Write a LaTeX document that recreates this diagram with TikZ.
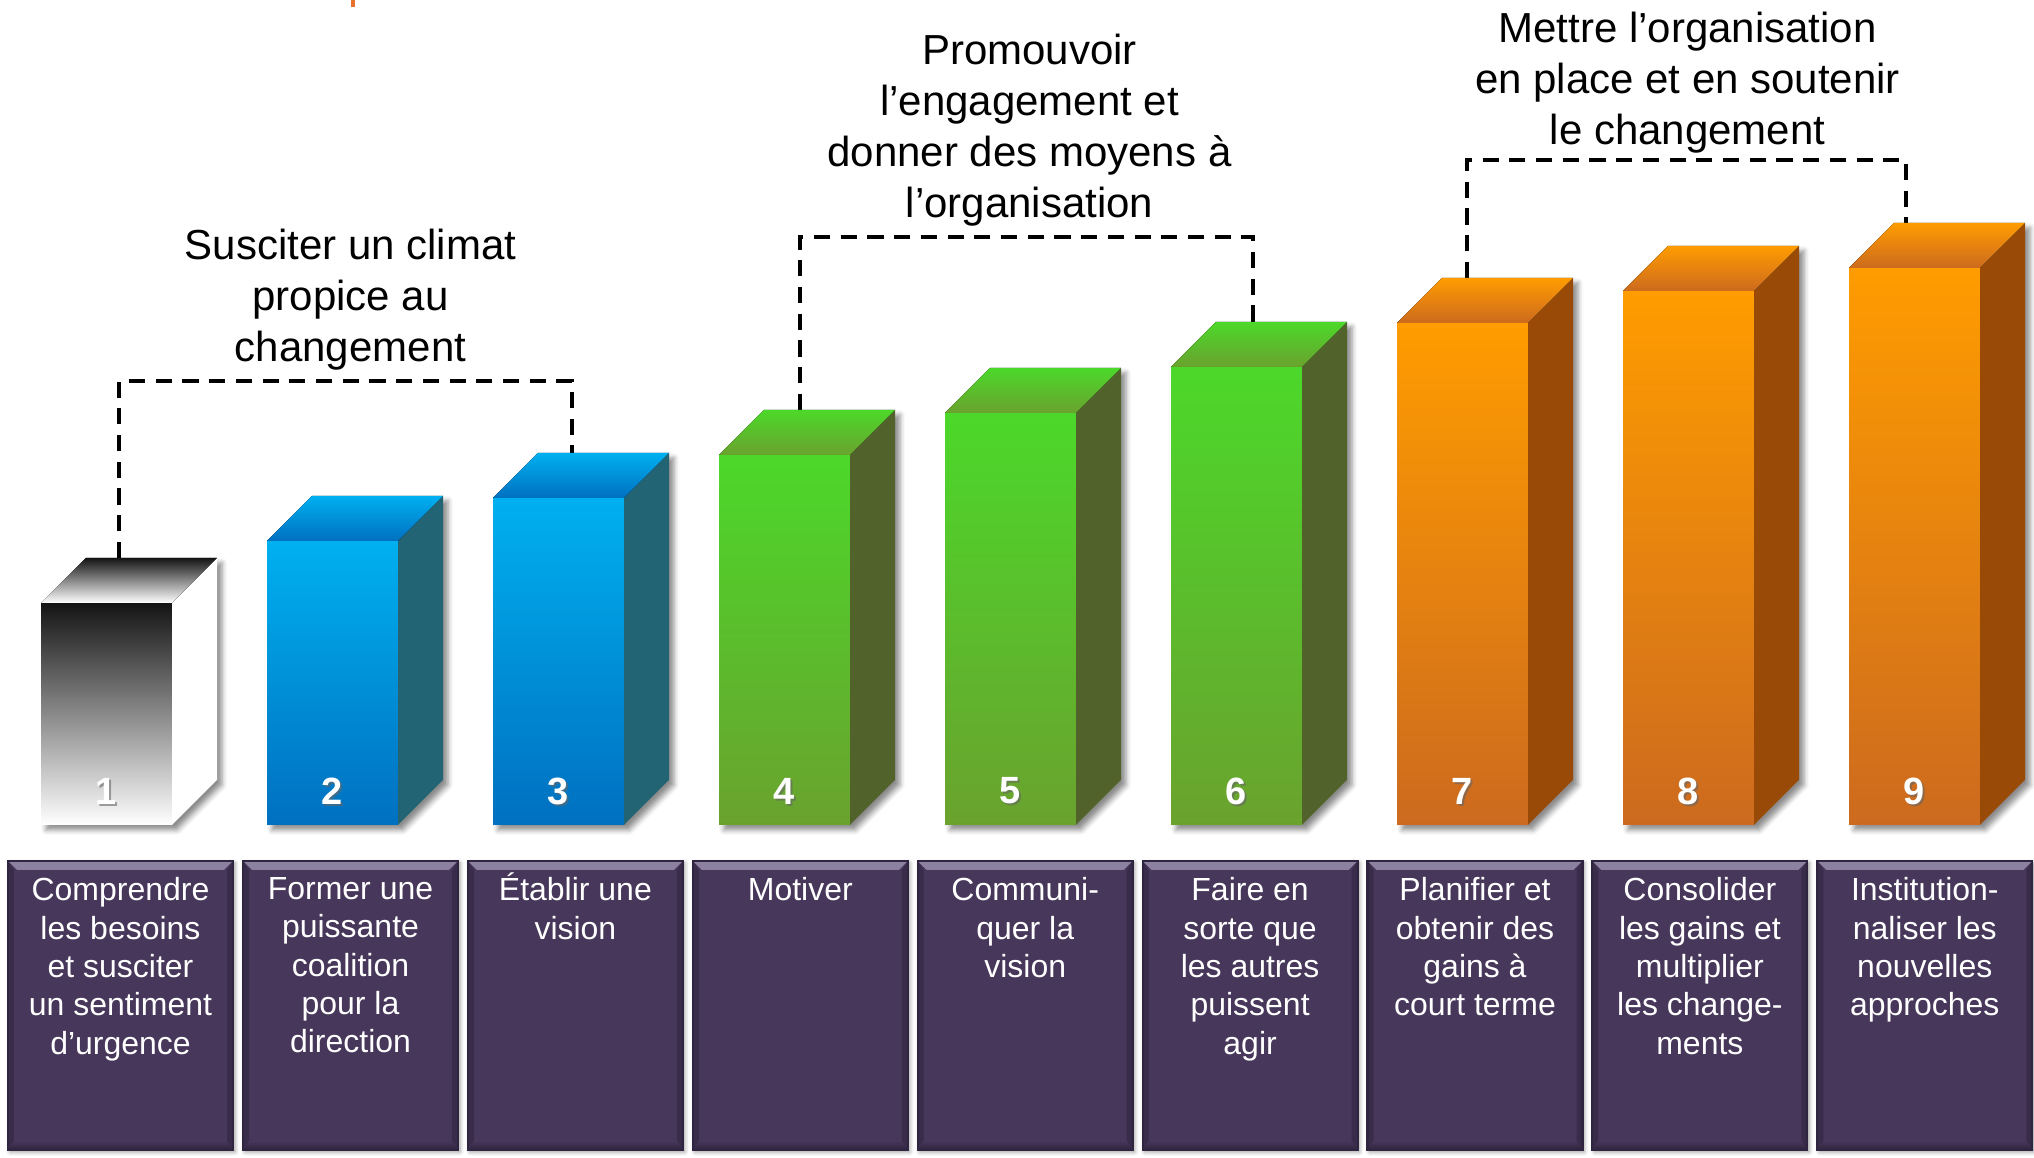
\documentclass[tikz,border=0pt]{standalone}
\usepackage{fontspec}
\setmainfont{Liberation Sans}
\usetikzlibrary{positioning,shadows.blur}

% bar colours: top of front face, bottom of front face, side face
\definecolor{topmono}{HTML}{141414}
\definecolor{botmono}{HTML}{FFFFFF}
\definecolor{sidemono}{HTML}{FFFFFF}
\definecolor{topblue}{HTML}{00B0F0}
\definecolor{botblue}{HTML}{0070C0}
\definecolor{sideblue}{HTML}{226374}
\definecolor{topgreen}{HTML}{4CD82A}
\definecolor{botgreen}{HTML}{6AA22E}
\definecolor{sidegreen}{HTML}{51632B}
\definecolor{toporange}{HTML}{FF9C00}
\definecolor{botorange}{HTML}{CC6A1F}
\definecolor{sideorange}{HTML}{9A4A07}
% stage boxes
\definecolor{stagefill}{HTML}{47375A}
\definecolor{stagelight}{HTML}{8E82A3}
\definecolor{stagedark}{HTML}{392B4A}
\definecolor{stageedge}{HTML}{2F2540}
\definecolor{titleorange}{HTML}{E8702A}

\tikzset{
    bracket/.style={dashed, line width=1.1pt, dash pattern=on 4.6pt off 3pt},
    head/.style={inner sep=0, align=center, font=\fontsize{11.95}{14.5}\selectfont},
    barshadow/.style={blur shadow={shadow xshift=0.05cm, shadow yshift=-0.05cm,
        shadow blur radius=0.05cm, shadow opacity=45}},
    num/.style={text=white, font=\bfseries\fontsize{10.8}{12}\selectfont},
    numshade/.style={text=black!60, opacity=0.6, font=\bfseries\fontsize{10.8}{12}\selectfont},
    stage/.style={minimum width=2.15cm, minimum height=2.89cm, inner sep=0,
        fill=stagefill, draw=stageedge, line width=0.6pt,
        blur shadow={shadow xshift=0.02cm, shadow yshift=-0.02cm, shadow blur radius=0.04cm},
        path picture={
            \fill[top color=stagelight, bottom color=stagefill]
                (path picture bounding box.north west) -- (path picture bounding box.north east)
                -- ([shift={(-0.09,-0.09)}]path picture bounding box.north east)
                -- ([shift={(0.09,-0.09)}]path picture bounding box.north west) -- cycle;
            \fill[stagedark]
                (path picture bounding box.north west) -- ([shift={(0.06,-0.09)}]path picture bounding box.north west)
                -- ([shift={(0.06,0.09)}]path picture bounding box.south west) -- (path picture bounding box.south west) -- cycle;
            \fill[stagedark]
                (path picture bounding box.north east) -- ([shift={(-0.06,-0.09)}]path picture bounding box.north east)
                -- ([shift={(-0.06,0.09)}]path picture bounding box.south east) -- (path picture bounding box.south east) -- cycle;
            \fill[top color=stagefill, bottom color=stagedark!80!black]
                (path picture bounding box.south west) -- ([shift={(0.06,0.09)}]path picture bounding box.south west)
                -- ([shift={(-0.06,0.09)}]path picture bounding box.south east) -- (path picture bounding box.south east) -- cycle;
        }},
    stagetext/.style={inner sep=0, align=center, text=white, font=\fontsize{9.1}{10.9}\selectfont}
}

\begin{document}
\begin{tikzpicture}
    \useasboundingbox (0,0) rectangle (20.34,11.58);

    % piece of the title cut off at the top
    \fill[titleorange] (3.51,11.51) rectangle (3.55,11.58);

    % Brackets over the three phases
    \coordinate (k1) at (1.19,6.00);
    \coordinate (k3) at (5.72,7.05);
    \coordinate (k4) at (8.00,7.48);
    \coordinate (k6) at (12.53,8.36);
    \coordinate (k7) at (14.67,8.80);
    \coordinate (k9) at (19.06,9.35);
    \coordinate (h1) at (3.455,7.77);
    \coordinate (h2) at (10.265,9.21);
    \coordinate (h3) at (16.865,9.98);

    \draw[bracket] (k1) |- (h1) -| (k3);
    \draw[bracket] (k4) |- (h2) -| (k6);
    \draw[bracket] (k7) |- (h3) -| (k9);

    \node[head, above=0.10cm of h1, xshift=0.05cm] (phase1) {Susciter un climat\\propice au\\changement};
    \node[head, above=0.10cm of h2, xshift=0.03cm] (phase2) {Promouvoir\\l’engagement et\\donner des moyens à\\l’organisation};
    \node[head, above=0.06cm of h3, xshift=0.01cm] (phase3) {Mettre l’organisation\\en place et en soutenir\\le changement};

    % Draw the bars
    \foreach \i/\hgt/\col in {1/5.55/mono, 2/6.17/blue, 3/6.60/blue, 4/7.03/green, 5/7.45/green,
                              6/7.91/green, 7/8.35/orange, 8/8.67/orange, 9/8.90/orange} {
        \pgfmathsetmacro\xl{0.41+2.26*(\i-1)}
        \pgfmathsetmacro\xr{\xl+1.31}
        \path[barshadow] (\xl,3.33) -- (\xr,3.33) -- (\xr+0.45,3.78) -- (\xr+0.45,\hgt+0.45)
            -- (\xl+0.45,\hgt+0.45) -- (\xl,\hgt) -- cycle;
        \fill[top color=top\col, bottom color=bot\col] (\xl,3.33) rectangle (\xr,\hgt);
        \fill[side\col] (\xr,3.33) -- (\xr+0.45,3.78) -- (\xr+0.45,\hgt+0.45) -- (\xr,\hgt) -- cycle;
        \fill[top color=top\col, bottom color=bot\col] (\xl,\hgt) -- (\xl+0.45,\hgt+0.45)
            -- (\xr+0.45,\hgt+0.45) -- (\xr,\hgt) -- cycle;
        \node[numshade] (m\i) at (\xl+0.675,3.65) {\i};
        \node[num] (n\i) at (\xl+0.655,3.67) {\i};
    }

    % Stages below the bars (the first one is a little wider)
    \node[stage, minimum width=2.25cm] (box1) at (1.205,1.525) {};
    \node[stagetext, below=0.17cm of box1.north] (lab1) {Comprendre\\les besoins\\et susciter\\un sentiment\\d’urgence};
    \foreach \i/\txt in {2/{Former une\\puissante\\coalition\\pour la\\direction},
                         3/{\smash{É}tablir une\\vision},
                         4/{Motiver},
                         5/{Communi-\\quer la\\vision},
                         6/{Faire en\\sorte que\\les autres\\puissent\\agir},
                         7/{Planifier et\\obtenir des\\gains à\\court terme},
                         8/{Consolider\\les gains et\\multiplier\\les change-\\ments},
                         9/{Institution-\\naliser les\\nouvelles\\approches}} {
        \node[stage] (box\i) at (3.505+2.249*\i-4.498,1.525) {};
        \node[stagetext, below=0.17cm of box\i.north] (lab\i) {\txt};
    }
\end{tikzpicture}
\end{document}
